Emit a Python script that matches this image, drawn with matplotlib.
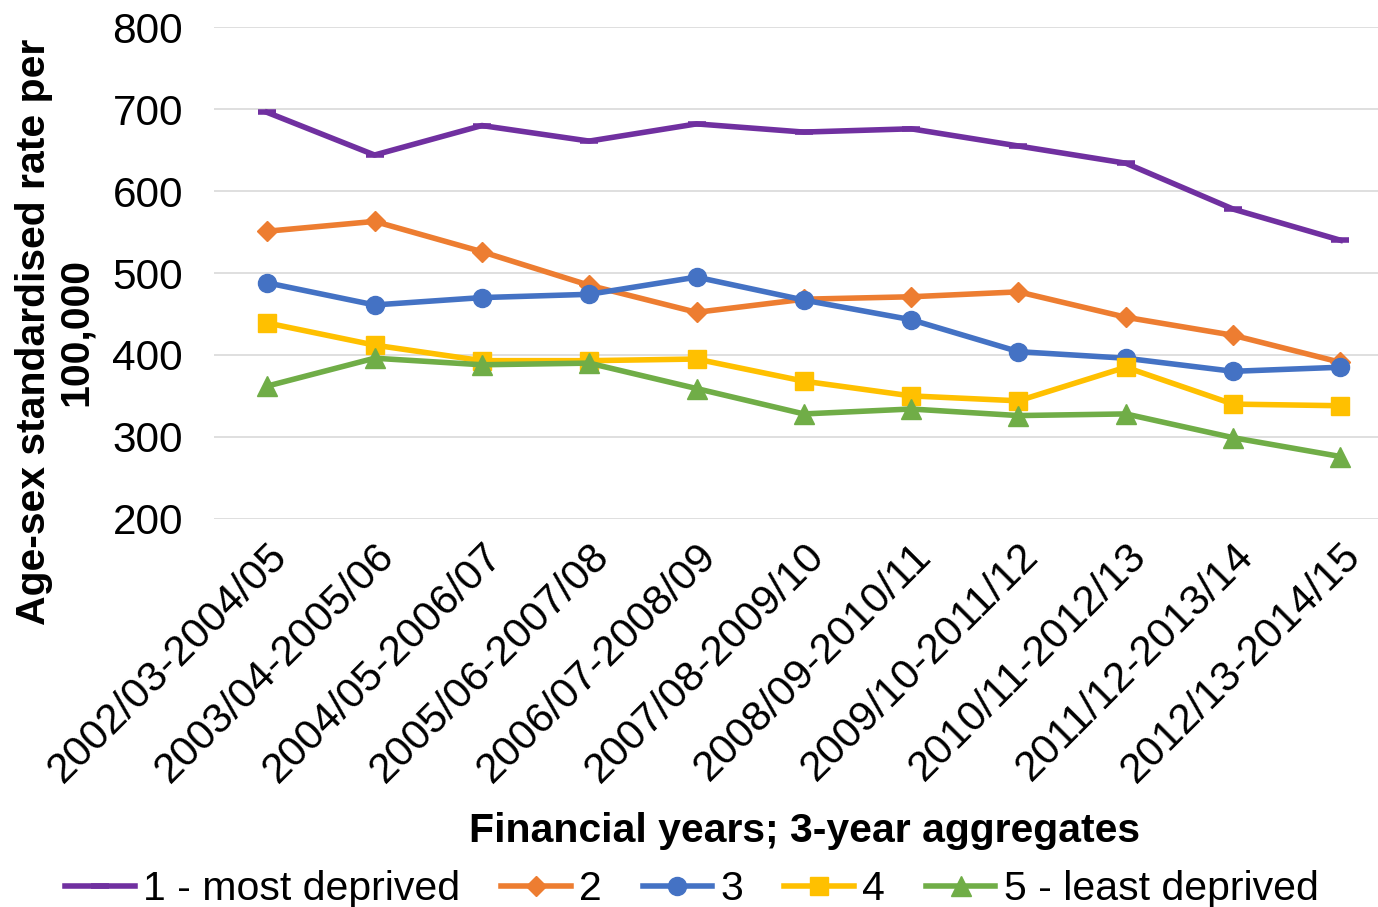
import matplotlib.pyplot as plt
import numpy as np

plt.rcParams['font.family'] = ['Liberation Sans', 'DejaVu Sans']

# financial year periods (3-year aggregates)
years = ['2002/03-2004/05', '2003/04-2005/06', '2004/05-2006/07', '2005/06-2007/08',
         '2006/07-2008/09', '2007/08-2009/10', '2008/09-2010/11', '2009/10-2011/12',
         '2010/11-2012/13', '2011/12-2013/14', '2012/13-2014/15']

q1 = [696, 644, 680, 661, 682, 672, 676, 655, 634, 578, 540]
q2 = [551, 563, 526, 485, 452, 468, 471, 477, 446, 424, 391]
q3 = [488, 461, 470, 474, 495, 467, 443, 404, 396, 380, 385]
q4 = [439, 412, 393, 393, 395, 368, 350, 344, 385, 340, 338]
q5 = [362, 396, 388, 390, 359, 328, 334, 326, 328, 299, 276]

labels = ['1 - most deprived', '2', '3', '4', '5 - least deprived']

fig = plt.figure(figsize=(13.78, 9.07), dpi=100)
ax = fig.add_axes([0.155, 0.428, 0.845, 0.542])

x = np.arange(len(years))
lw = 4
ax.plot(x, q1, c='#7030A0', lw=lw, marker='_', ms=13, mew=4, label=labels[0])
ax.plot(x, q2, c='#ED7D31', lw=lw, marker='D', ms=10, label=labels[1])
ax.plot(x, q3, c='#4472C4', lw=lw, marker='o', ms=13, label=labels[2])
ax.plot(x, q4, c='#FFC000', lw=lw, marker='s', ms=13, label=labels[3])
ax.plot(x, q5, c='#70AD47', lw=lw, marker='^', ms=14, label=labels[4])

ax.set_ylim(200, 800)
ax.set_yticks([200, 300, 400, 500, 600, 700, 800])
ax.set_xlim(-0.5, 10.35)
ax.set_xticks(x)
ax.set_xticklabels(years, rotation=45, ha='right', rotation_mode='anchor')
ax.tick_params(axis='both', length=0, labelsize=30.5, colors='black')
ax.tick_params(axis='y', pad=22)
ax.tick_params(axis='x', pad=12)
ax.grid(axis='y', color='#D9D9D9', lw=1.2)
ax.set_axisbelow(True)
for s in ax.spines.values():
    s.set_visible(False)

fig.text(0.040, 0.634, 'Age-sex standardised rate per\n100,000', rotation=90,
         ha='center', va='center', multialignment='center',
         fontsize=29.5, fontweight='bold', linespacing=1.15)
fig.text(0.584, 0.084, 'Financial years; 3-year aggregates', ha='center', va='center',
         fontsize=29.5, fontweight='bold')

fig.legend(loc='center', bbox_to_anchor=(0.502, 0.02), ncol=5, frameon=False,
           fontsize=29.5, handlelength=1.7, handletextpad=0.2, columnspacing=1.0,
           borderaxespad=0)

fig.savefig('out.png', dpi=100)
